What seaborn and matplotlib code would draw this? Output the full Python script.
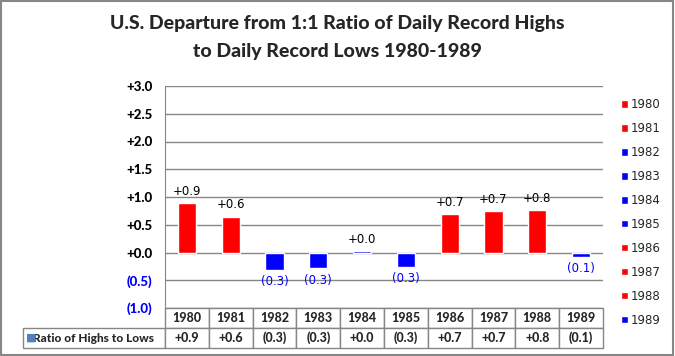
import numpy as np
import pandas as pd
import seaborn as sns
import matplotlib.pyplot as plt
from matplotlib.patches import Patch, Rectangle

# Data
years = ["1980", "1981", "1982", "1983", "1984", "1985", "1986", "1987", "1988", "1989"]
ratio = [0.89, 0.64, -0.31, -0.28, 0.02, -0.26, 0.69, 0.74, 0.76, -0.08]
series_name = "Ratio of Highs to Lows"
title_lines = ["U.S. Departure from 1:1 Ratio of Daily Record Highs",
               "to Daily Record Lows 1980-1989"]

RED = "#FF0000"
BLUE = "#0000FF"
GRID = "#868686"


def fmt(v):
    v = round(v, 1)
    return f"+{v:.1f}" if v >= 0 else f"({abs(v):.1f})"


df = pd.DataFrame({"year": years, "value": ratio})
palette = {y: (RED if v >= 0 and y != "1984" else BLUE) for y, v in zip(years, ratio)}

sns.set_style("white")
plt.rcParams["font.family"] = ["Lato", "DejaVu Sans"]

W, H = 675, 356
fig = plt.figure(figsize=(W / 100, H / 100), dpi=100)

# plot area in pixel coordinates
px_l, px_r, px_t, px_b = 165, 603, 86, 308
ax = fig.add_axes([px_l / W, 1 - px_b / H, (px_r - px_l) / W, (px_b - px_t) / H])

sns.barplot(data=df, x="year", y="value", hue="year", palette=palette,
            dodge=False, width=0.42, legend=False, saturation=1, ax=ax)

ax.set_xlim(-0.5, len(years) - 0.5)
ax.set_ylim(-1.0, 3.0)
yt = np.arange(-1.0, 3.01, 0.5)
ax.set_yticks(yt)
ax.set_yticklabels([fmt(v) for v in yt], fontweight="black", fontsize=9.5)
for lab, v in zip(ax.get_yticklabels(), yt):
    lab.set_color(BLUE if v < 0 else "black")
ax.tick_params(axis="y", length=5, color=GRID, pad=4)
ax.set_xticks([])
ax.set_xlabel("")
ax.set_ylabel("")
ax.grid(axis="y", color=GRID, linewidth=1)
ax.set_axisbelow(True)
for s in ["top", "right", "bottom"]:
    ax.spines[s].set_visible(False)
ax.spines["left"].set_color(GRID)

# value labels
for cont in ax.containers:
    for b in cont:
        v = b.get_height()
        if np.isnan(v):
            continue
        ax.annotate(fmt(v), (b.get_x() + b.get_width() / 2, v),
                    xytext=(0, 4 if v >= 0 else -4), textcoords="offset points",
                    ha="center", va="bottom" if v >= 0 else "top",
                    fontsize=8.5, family="DejaVu Sans",
                    color="black" if v >= 0 else BLUE)

# legend on the right
handles = [Patch(facecolor=palette[y], label=y) for y in years]
fig.legend(handles=handles, loc="upper left", bbox_to_anchor=(621 / W, 1 - 98 / H),
           frameon=False, prop={"family": "DejaVu Sans", "size": 8.5},
           handlelength=0.6, handleheight=0.6, handletextpad=0.25,
           labelspacing=0.93, borderaxespad=0, borderpad=0)

# data table under the chart
tb_l, tb_t, tb_b = 23, 308, 348
tax = fig.add_axes([tb_l / W, 1 - tb_b / H, (px_r - tb_l) / W, (tb_b - tb_t) / H])
tax.axis("off")
cell_text = [[""] + years, [series_name] + [fmt(v) for v in ratio]]
first_w = px_l - tb_l
col_w = (px_r - px_l) / len(years)
widths = [first_w] + [col_w] * len(years)
tot = sum(widths)
table = tax.table(cellText=cell_text, colWidths=[w / tot for w in widths],
                  cellLoc="center", bbox=[0, 0, 1, 1])
table.auto_set_font_size(False)
for (r, c), cell in table.get_celld().items():
    cell.set_edgecolor(GRID)
    cell.set_linewidth(1)
    cell.get_text().set_fontsize(9)
    cell.get_text().set_fontweight("black")
    if r == 0 and c == 0:
        cell.set_visible(False)
    if r == 1 and c == 0:
        cell.get_text().set_fontsize(8.6)
        cell._loc = "right"
        cell.PAD = 0.01
tax.text(0.006, 0.25, "\u25A0", transform=tax.transAxes, color="#4F81BD",
         fontsize=8, family="DejaVu Sans", ha="left", va="center")

# title
for i, line in enumerate(title_lines):
    fig.text(0.5, 1 - (24 + 28 * i) / H, line, ha="center", va="center",
             fontsize=14, fontweight="black")

# outer frame
fig.patches.append(Rectangle((0.002, 0.004), 0.995, 0.992, transform=fig.transFigure,
                             fill=False, edgecolor=GRID, linewidth=1.5))

fig.savefig("out.png", dpi=100)
